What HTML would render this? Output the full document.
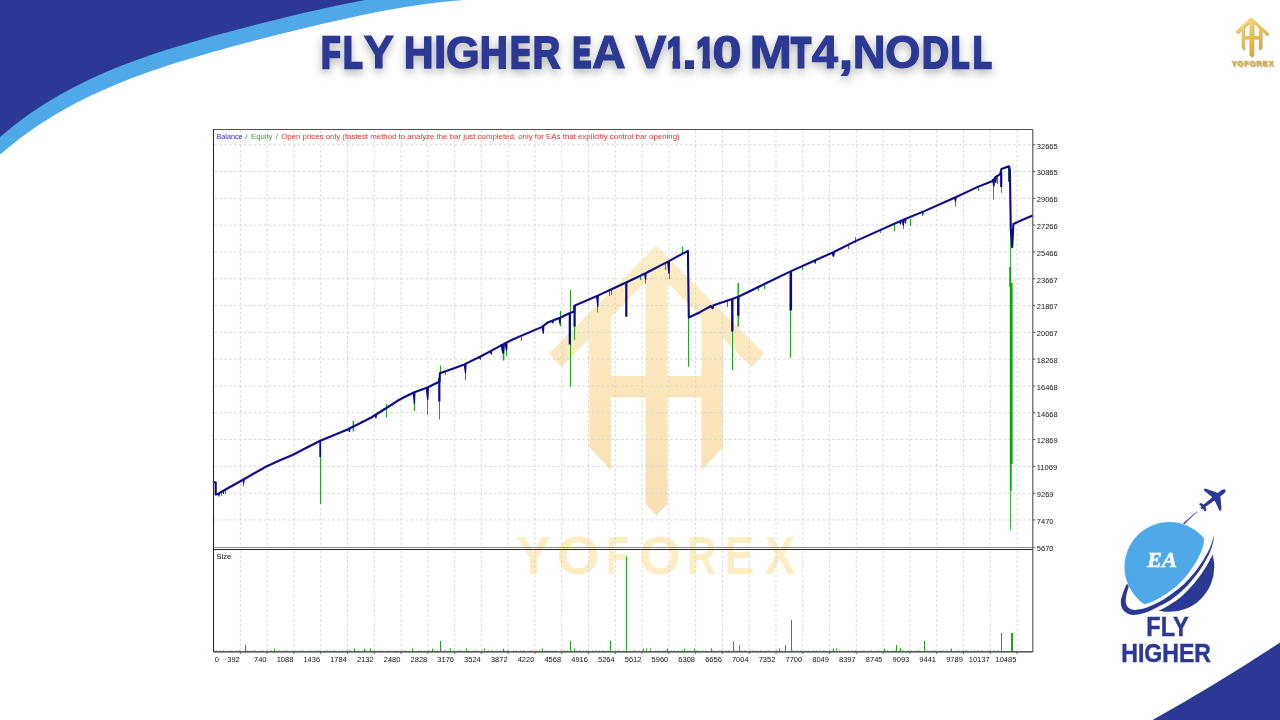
<!DOCTYPE html>
<html lang="en"><head><meta charset="utf-8"><title>FLY HIGHER EA V1.10 MT4,NODLL</title>
<style>html,body{margin:0;padding:0;background:#fff;}body{width:1280px;height:720px;overflow:hidden;position:relative;}svg{position:absolute;left:0;top:0;display:block;}text{font-family:"Liberation Sans",sans-serif;}</style>
</head><body>
<svg width="1280" height="720" viewBox="0 0 1280 720">
<defs>
<filter id="tshadow" color-interpolation-filters="sRGB" x="-5%" y="-30%" width="110%" height="180%"><feGaussianBlur in="SourceAlpha" stdDeviation="4"/><feOffset dx="0" dy="3.6" result="b"/><feFlood flood-color="#00000a" flood-opacity="0.3"/><feComposite in2="b" operator="in"/><feMerge><feMergeNode/><feMergeNode in="SourceGraphic"/></feMerge></filter>
<linearGradient id="wm" gradientUnits="userSpaceOnUse" x1="0" y1="245" x2="0" y2="515"><stop offset="0" stop-color="#fdeec6"/><stop offset="1" stop-color="#f8dfb2"/></linearGradient>
<linearGradient id="gold" gradientUnits="userSpaceOnUse" x1="1240" y1="17" x2="1262" y2="57"><stop offset="0" stop-color="#f8df7c"/><stop offset="0.5" stop-color="#eac04a"/><stop offset="1" stop-color="#d29d2e"/></linearGradient>
<filter id="gshadow" color-interpolation-filters="sRGB" x="-20%" y="-20%" width="140%" height="150%"><feGaussianBlur in="SourceAlpha" stdDeviation="0.5"/><feOffset dx="0.5" dy="0.7" result="b"/><feFlood flood-color="#6b4e12" flood-opacity="0.4"/><feComposite in2="b" operator="in"/><feMerge><feMergeNode/><feMergeNode in="SourceGraphic"/></feMerge></filter>
</defs>
<rect width="1280" height="720" fill="#fff"/>
<polygon points="0,0 0.0,154.5 19.3,138.8 38.6,125.1 58.0,113.0 77.3,102.3 96.6,92.9 115.9,84.4 135.2,76.8 154.5,69.9 173.8,63.6 193.2,57.7 212.5,52.1 231.8,46.7 251.1,41.6 270.4,36.6 289.8,31.8 309.1,27.1 328.4,22.6 347.7,18.2 367.0,14.1 386.3,10.3 405.6,6.9 425.0,4.0 444.3,1.8 463.6,0" fill="#4fa9e8"/>
<polygon points="0,0 0.0,136.9 15.2,124.5 30.4,113.3 45.6,103.3 60.9,94.2 76.1,86.0 91.3,78.6 106.5,71.8 121.7,65.6 136.9,59.9 152.1,54.6 167.3,49.6 182.6,44.9 197.8,40.4 213.0,36.1 228.2,31.9 243.4,27.9 258.6,24.0 273.8,20.2 289.0,16.4 304.2,12.8 319.5,9.4 334.7,6.1 349.9,3.0 365.1,0" fill="#2c3994"/>
<path d="M1152.5 720 Q 1218 683.5 1280 642.5 V720 Z" fill="#2c3994"/>
<mask id="tmask" maskUnits="userSpaceOnUse" x="300" y="0" width="720" height="120"><rect x="300" y="0" width="720" height="120" fill="#fff"/><g fill="#000"><rect x="340.20" y="30.00" width="3.37" height="50"/><rect x="362.60" y="60.16" width="3.08" height="14"/><rect x="529.70" y="30.00" width="4.30" height="50"/><rect x="665.50" y="59.77" width="7.00" height="14"/><rect x="680.10" y="59.77" width="4.80" height="14"/><rect x="695.10" y="59.98" width="7.30" height="14"/><rect x="710.00" y="59.98" width="5.80" height="14"/><rect x="969.40" y="60.16" width="4.18" height="14"/><rect x="991.80" y="60.16" width="3.68" height="14"/></g></mask>
<g filter="url(#tshadow)"><text id="title" mask="url(#tmask)" y="67.55" font-size="43.6" font-weight="700" fill="#2c3994" stroke="#2c3994" stroke-width="2.5" stroke-linejoin="miter"><tspan x="320.98" y="67.55" font-size="43.60" stroke-width="2.50" textLength="21.63" lengthAdjust="spacingAndGlyphs">F</tspan><tspan x="342.88" y="67.55" font-size="43.60" stroke-width="2.50" textLength="21.63" lengthAdjust="spacingAndGlyphs">L</tspan><tspan x="363.43" y="68.29" font-size="45.76" stroke-width="1.01" textLength="30.50" lengthAdjust="spacingAndGlyphs">Y</tspan> <tspan x="403.94" y="67.94" font-size="44.73" stroke-width="1.73" textLength="29.45" lengthAdjust="spacingAndGlyphs">H</tspan><tspan x="433.79" y="68.30" font-size="45.78" stroke-width="1.00" textLength="12.92" lengthAdjust="spacingAndGlyphs">I</tspan><tspan x="446.00" y="68.12" font-size="45.26" stroke-width="1.36" textLength="33.70" lengthAdjust="spacingAndGlyphs">G</tspan><tspan x="480.08" y="67.76" font-size="44.21" stroke-width="2.09" textLength="27.66" lengthAdjust="spacingAndGlyphs">H</tspan><tspan x="509.98" y="67.55" font-size="43.60" stroke-width="2.50" textLength="23.62" lengthAdjust="spacingAndGlyphs">E</tspan><tspan x="532.64" y="67.73" font-size="44.12" stroke-width="2.14" textLength="27.37" lengthAdjust="spacingAndGlyphs">R</tspan> <tspan x="573.05" y="67.05" font-size="42.15" stroke-width="3.50" textLength="17.95" lengthAdjust="spacingAndGlyphs">E</tspan><tspan x="592.14" y="68.30" font-size="45.78" stroke-width="1.00" textLength="33.69" lengthAdjust="spacingAndGlyphs">A</tspan> <tspan x="635.08" y="68.30" font-size="45.78" stroke-width="1.00" textLength="31.34" lengthAdjust="spacingAndGlyphs">V</tspan><tspan x="667.15" y="67.09" font-size="42.27" stroke-width="3.42" textLength="16.85" lengthAdjust="spacingAndGlyphs">1</tspan><tspan x="682.63" y="67.80" font-size="44.33" stroke-width="2.00" textLength="13.78" lengthAdjust="spacingAndGlyphs">.</tspan><tspan x="696.50" y="67.22" font-size="42.63" stroke-width="3.17" textLength="17.86" lengthAdjust="spacingAndGlyphs">1</tspan><tspan x="712.30" y="68.30" font-size="45.78" stroke-width="1.00" textLength="29.47" lengthAdjust="spacingAndGlyphs">0</tspan> <tspan x="749.48" y="68.30" font-size="45.78" stroke-width="1.00" textLength="42.53" lengthAdjust="spacingAndGlyphs">M</tspan><tspan x="791.34" y="67.30" font-size="42.87" stroke-width="3.00" textLength="19.50" lengthAdjust="spacingAndGlyphs">T</tspan><tspan x="811.79" y="68.30" font-size="45.78" stroke-width="1.00" textLength="26.27" lengthAdjust="spacingAndGlyphs">4</tspan><tspan x="839.42" y="67.80" font-size="44.33" stroke-width="2.00" textLength="13.01" lengthAdjust="spacingAndGlyphs">,</tspan><tspan x="852.68" y="68.28" font-size="45.72" stroke-width="1.05" textLength="32.86" lengthAdjust="spacingAndGlyphs">N</tspan><tspan x="884.93" y="68.29" font-size="45.77" stroke-width="1.01" textLength="35.59" lengthAdjust="spacingAndGlyphs">O</tspan><tspan x="922.12" y="67.68" font-size="44.00" stroke-width="2.23" textLength="26.93" lengthAdjust="spacingAndGlyphs">D</tspan><tspan x="950.78" y="67.55" font-size="43.60" stroke-width="2.50" textLength="21.63" lengthAdjust="spacingAndGlyphs">L</tspan><tspan x="972.68" y="67.55" font-size="43.60" stroke-width="2.50" textLength="21.63" lengthAdjust="spacingAndGlyphs">L</tspan></text></g>
<rect x="213.5" y="129.5" width="819.3" height="522.4" fill="#fff"/>
<g id="wmark" fill="url(#wm)">
<path d="M656 245.5 L549 353.5 L561.5 367 L656 271.5 L751.5 367 L764 353.5 Z"/>
<path d="M589.5 316 L611 300 L611 470 L589.5 447.5 Z"/>
<path d="M723 316 L701.5 300 L701.5 470 L723 447.5 Z"/>
<path d="M645.5 262 H667.5 V504 L656.5 515.5 L645.5 504 Z"/>
<rect x="600" y="376" width="112" height="21.5"/>
</g>
<text y="574.4" font-size="53" font-weight="700" fill="#fcedc2"><tspan x="516.62" textLength="34.20" lengthAdjust="spacingAndGlyphs">Y</tspan><tspan x="556.46" textLength="43.38" lengthAdjust="spacingAndGlyphs">O</tspan><tspan x="606.28" textLength="22.58" lengthAdjust="spacingAndGlyphs">F</tspan><tspan x="639.04" textLength="41.98" lengthAdjust="spacingAndGlyphs">O</tspan><tspan x="687.37" textLength="28.44" lengthAdjust="spacingAndGlyphs">R</tspan><tspan x="724.52" textLength="29.72" lengthAdjust="spacingAndGlyphs">E</tspan><tspan x="764.59" textLength="30.81" lengthAdjust="spacingAndGlyphs">X</tspan></text>
<g stroke="#d4d4d4" stroke-width="0.9" stroke-dasharray="2.6 2.3" fill="none">
<path d="M240.38 130.5 V546.5 M240.38 550.5 V650.9"/>
<path d="M267.16 130.5 V546.5 M267.16 550.5 V650.9"/>
<path d="M293.94 130.5 V546.5 M293.94 550.5 V650.9"/>
<path d="M320.72 130.5 V546.5 M320.72 550.5 V650.9"/>
<path d="M347.50 130.5 V546.5 M347.50 550.5 V650.9"/>
<path d="M374.28 130.5 V546.5 M374.28 550.5 V650.9"/>
<path d="M401.06 130.5 V546.5 M401.06 550.5 V650.9"/>
<path d="M427.84 130.5 V546.5 M427.84 550.5 V650.9"/>
<path d="M454.62 130.5 V546.5 M454.62 550.5 V650.9"/>
<path d="M481.40 130.5 V546.5 M481.40 550.5 V650.9"/>
<path d="M508.18 130.5 V546.5 M508.18 550.5 V650.9"/>
<path d="M534.96 130.5 V546.5 M534.96 550.5 V650.9"/>
<path d="M561.74 130.5 V546.5 M561.74 550.5 V650.9"/>
<path d="M588.52 130.5 V546.5 M588.52 550.5 V650.9"/>
<path d="M615.30 130.5 V546.5 M615.30 550.5 V650.9"/>
<path d="M642.08 130.5 V546.5 M642.08 550.5 V650.9"/>
<path d="M668.86 130.5 V546.5 M668.86 550.5 V650.9"/>
<path d="M695.64 130.5 V546.5 M695.64 550.5 V650.9"/>
<path d="M722.42 130.5 V546.5 M722.42 550.5 V650.9"/>
<path d="M749.20 130.5 V546.5 M749.20 550.5 V650.9"/>
<path d="M775.98 130.5 V546.5 M775.98 550.5 V650.9"/>
<path d="M802.76 130.5 V546.5 M802.76 550.5 V650.9"/>
<path d="M829.54 130.5 V546.5 M829.54 550.5 V650.9"/>
<path d="M856.32 130.5 V546.5 M856.32 550.5 V650.9"/>
<path d="M883.10 130.5 V546.5 M883.10 550.5 V650.9"/>
<path d="M909.88 130.5 V546.5 M909.88 550.5 V650.9"/>
<path d="M936.66 130.5 V546.5 M936.66 550.5 V650.9"/>
<path d="M963.44 130.5 V546.5 M963.44 550.5 V650.9"/>
<path d="M990.22 130.5 V546.5 M990.22 550.5 V650.9"/>
<path d="M1017.00 130.5 V546.5 M1017.00 550.5 V650.9"/>
<path d="M214.5 144.75 H1031.8"/>
<path d="M214.5 171.55 H1031.8"/>
<path d="M214.5 198.35 H1031.8"/>
<path d="M214.5 225.15 H1031.8"/>
<path d="M214.5 251.95 H1031.8"/>
<path d="M214.5 278.75 H1031.8"/>
<path d="M214.5 305.55 H1031.8"/>
<path d="M214.5 332.35 H1031.8"/>
<path d="M214.5 359.15 H1031.8"/>
<path d="M214.5 385.95 H1031.8"/>
<path d="M214.5 412.75 H1031.8"/>
<path d="M214.5 439.55 H1031.8"/>
<path d="M214.5 466.35 H1031.8"/>
<path d="M214.5 493.15 H1031.8"/>
<path d="M214.5 519.95 H1031.8"/>
</g>
<g stroke="#1ea51e" fill="none">
<path d="M221.5 491 V496" stroke-width="1"/>
<path d="M225.5 490 V494" stroke-width="1"/>
<path d="M243.5 479 V486.5" stroke-width="1"/>
<path d="M320.5 441 V503.8" stroke-width="1"/>
<path d="M353.4 421 V431.5" stroke-width="1.6"/>
<path d="M386.5 404 V417.5" stroke-width="1"/>
<path d="M392.5 403 V406" stroke-width="1"/>
<path d="M414.5 392 V411" stroke-width="1"/>
<path d="M427.5 387 V414.7" stroke-width="1"/>
<path d="M439.5 381 V419.4" stroke-width="1"/>
<path d="M440.5 365.5 V374" stroke-width="1"/>
<path d="M445.5 371 V375" stroke-width="1"/>
<path d="M465.5 363 V380.3" stroke-width="1"/>
<path d="M480.5 357 V360" stroke-width="1"/>
<path d="M491.5 351 V355" stroke-width="1"/>
<path d="M503.5 345 V360.5" stroke-width="1.6"/>
<path d="M506.5 344 V356" stroke-width="1"/>
<path d="M521.5 336 V341" stroke-width="1"/>
<path d="M543.5 326 V334" stroke-width="1"/>
<path d="M560.5 311 V326.7" stroke-width="1"/>
<path d="M570.5 290 V386.7" stroke-width="1"/>
<path d="M574.5 305 V340" stroke-width="1"/>
<path d="M597.5 295 V312.5" stroke-width="1"/>
<path d="M609.5 290 V296" stroke-width="1"/>
<path d="M611.5 289 V295" stroke-width="1"/>
<path d="M626.5 282 V300" stroke-width="1"/>
<path d="M640.5 276 V280" stroke-width="1"/>
<path d="M645.5 273 V283.5" stroke-width="1"/>
<path d="M665.5 262 V270" stroke-width="1"/>
<path d="M669.5 261 V279" stroke-width="1"/>
<path d="M682.5 246.5 V254" stroke-width="1"/>
<path d="M688.5 317 V366.7" stroke-width="1"/>
<path d="M727.5 300 V307" stroke-width="1"/>
<path d="M732.5 298 V370" stroke-width="1"/>
<path d="M738.3 283 V326.7" stroke-width="1.5"/>
<path d="M758.5 287 V291" stroke-width="1"/>
<path d="M764.5 284 V289" stroke-width="1"/>
<path d="M790.5 271 V357.8" stroke-width="1"/>
<path d="M802.5 266 V270" stroke-width="1"/>
<path d="M815.5 260 V264" stroke-width="1"/>
<path d="M833.5 252 V257" stroke-width="1"/>
<path d="M848.5 245 V249" stroke-width="1"/>
<path d="M855.5 237 V243" stroke-width="1"/>
<path d="M880.5 230 V233" stroke-width="1"/>
<path d="M894.5 224 V231" stroke-width="1"/>
<path d="M903.5 220 V229" stroke-width="1"/>
<path d="M910.5 219 V226" stroke-width="1"/>
<path d="M922.5 211 V216" stroke-width="1"/>
<path d="M955.5 197 V206.5" stroke-width="1"/>
<path d="M978.5 187 V191" stroke-width="1"/>
<path d="M993.5 181 V199.6" stroke-width="1"/>
<path d="M997.5 177 V184" stroke-width="1"/>
<path d="M1001.5 172 V192.8" stroke-width="1"/>
<path d="M1008.9 168 V181" stroke-width="1.5"/>
<path d="M1010.5 229 V269" stroke-width="1" stroke="#35bd35"/>
<path d="M1010.2 267 V287" stroke-width="1.9" stroke="#12a012"/>
<path d="M1011.2 283 V464" stroke-width="2.8" stroke="#0ca50c"/>
<path d="M1010.8 464 V491" stroke-width="1.8" stroke="#0ca50c"/>
<path d="M1010.6 491 V530" stroke-width="1" stroke="#2bb52b"/>
</g>
<polyline points="214.1,482.2 215.7,482.2 215.7,494.6 218,494 221.3,491.8 230,487 240,481.5 253,474 266.3,466.5 280,460.3 292.5,455 306,448 319.7,441 333,435.5 346.9,429.7 360,423.3 371.3,417.5 384,409.5 397.5,400.8 406,396.3 414.4,392.2 427.5,387.5 439.6,381.5 439.9,373.3 452,369 464.4,364.4 480,356.7 492,350.4 504.4,343.8 512,339.8 522.2,335.4 542.2,326.9 547.8,322.4 560,317.8 569.5,313.2 574.2,311.5 574.5,305.6 586,300.8 597.8,295.6 612,289 626.7,282.2 645.6,273.3 668.9,261.1 687.9,250.8 688.8,317.5 700,312.2 711,306 712.5,308.2 713.5,305.3 732.2,298.9 738.9,296.5 765,283.8 791.1,271.1 812,261.8 833.3,252.2 855.6,241.1 879,230.6 902.2,220.2 924.4,211.1 955.6,197.3 977.8,186.9 993.3,180.7 995.3,177.2 1000.1,174.3 1001.5,168.9 1008.9,166.3 1009.9,170 1010.8,229.7 1012.2,247.2 1013.4,224 1022,220 1032,215.8" fill="none" stroke="#0a0a8c" stroke-width="2.1" stroke-linejoin="round" stroke-linecap="round"/>
<g stroke="#0a0a8c" fill="none" stroke-linecap="butt">
<path d="M217.48 493 L219.91 493 L219.48 496.5 L218.52 496.5 Z" fill="#0a0a8c" stroke="none"/>
<path d="M222.17 490.5 L224.30 490.5 L223.92 494 L223.08 494 Z" fill="#0a0a8c" stroke="none"/>
<path d="M242.28 479 L244.71 479 L244.28 483.5 L243.32 483.5 Z" fill="#0a0a8c" stroke="none"/>
<path d="M320.2 441 V457" stroke-width="1.8"/>
<path d="M347.60 428.5 L350.64 428.5 L350.10 432 L348.90 432 Z" fill="#0a0a8c" stroke="none"/>
<path d="M374.48 415 L376.91 415 L376.48 418.5 L375.52 418.5 Z" fill="#0a0a8c" stroke="none"/>
<path d="M412.50 392 L415.54 392 L415.00 404 L413.80 404 Z" fill="#0a0a8c" stroke="none"/>
<path d="M425.70 387.5 L428.74 387.5 L428.20 398 L427.00 398 Z" fill="#0a0a8c" stroke="none"/>
<path d="M439.3 378 V401.5" stroke-width="2.2"/>
<path d="M426.09 388 L428.83 388 L428.34 400 L427.26 400 Z" fill="#0a0a8c" stroke="none"/>
<path d="M463.60 364 L466.64 364 L466.10 373.5 L464.90 373.5 Z" fill="#0a0a8c" stroke="none"/>
<path d="M478.48 356.5 L480.91 356.5 L480.48 359 L479.52 359 Z" fill="#0a0a8c" stroke="none"/>
<path d="M489.48 351 L491.91 351 L491.48 354 L490.52 354 Z" fill="#0a0a8c" stroke="none"/>
<path d="M500.35 344.5 L504.91 344.5 L504.10 353.5 L502.30 353.5 Z" fill="#0a0a8c" stroke="none"/>
<path d="M504.60 343.5 L507.64 343.5 L507.10 351 L505.90 351 Z" fill="#0a0a8c" stroke="none"/>
<path d="M541.40 326.5 L544.44 326.5 L543.90 333.5 L542.70 333.5 Z" fill="#0a0a8c" stroke="none"/>
<path d="M551.48 320.5 L553.91 320.5 L553.48 323.5 L552.52 323.5 Z" fill="#0a0a8c" stroke="none"/>
<path d="M558.29 317.5 L561.03 317.5 L560.54 324.5 L559.46 324.5 Z" fill="#0a0a8c" stroke="none"/>
<path d="M569.8 313 V344.5" stroke-width="2.2"/>
<path d="M574.6 305.6 V326.7" stroke-width="2.2"/>
<path d="M595.90 295.5 L598.94 295.5 L598.40 306.8 L597.20 306.8 Z" fill="#0a0a8c" stroke="none"/>
<path d="M626.3 282 V316.8" stroke-width="2.2"/>
<path d="M643.89 273.3 L646.63 273.3 L646.14 280 L645.06 280 Z" fill="#0a0a8c" stroke="none"/>
<path d="M667.00 261 L670.04 261 L669.50 273.5 L668.30 273.5 Z" fill="#0a0a8c" stroke="none"/>
<path d="M732.3 298.8 V331.5" stroke-width="2.4"/>
<path d="M738.3 296.5 V315.8" stroke-width="2.4"/>
<path d="M790.8 271 V310.5" stroke-width="2.6"/>
<path d="M831.03 252 L834.98 252 L834.28 256.5 L832.72 256.5 Z" fill="#0a0a8c" stroke="none"/>
<path d="M813.48 260.5 L815.91 260.5 L815.48 263 L814.52 263 Z" fill="#0a0a8c" stroke="none"/>
<path d="M901.40 220 L904.44 220 L903.90 225.5 L902.70 225.5 Z" fill="#0a0a8c" stroke="none"/>
<path d="M898.98 221 L901.41 221 L900.98 224.5 L900.02 224.5 Z" fill="#0a0a8c" stroke="none"/>
<path d="M903.98 219 L906.41 219 L905.98 223.5 L905.02 223.5 Z" fill="#0a0a8c" stroke="none"/>
<path d="M921.48 211.5 L923.91 211.5 L923.48 214.5 L922.52 214.5 Z" fill="#0a0a8c" stroke="none"/>
<path d="M953.70 197 L956.74 197 L956.20 201.5 L955.00 201.5 Z" fill="#0a0a8c" stroke="none"/>
<path d="M991.81 179 L995.15 179 L994.56 186.5 L993.24 186.5 Z" fill="#0a0a8c" stroke="none"/>
<path d="M993.90 177 L996.94 177 L996.40 183 L995.20 183 Z" fill="#0a0a8c" stroke="none"/>
<path d="M1001.2 172 V187" stroke-width="2.2"/>
<path d="M1009.3 166.5 V182" stroke-width="1.8"/>
</g>
<g stroke="#1ea51e" fill="none">
<path d="M245.5 645 V651.4" stroke-width="1"/>
<path d="M274.5 648.4 V651.4" stroke-width="1"/>
<path d="M354.5 648.6 V651.4" stroke-width="1"/>
<path d="M364.5 648.8 V651.4" stroke-width="1"/>
<path d="M370.5 648.4 V651.4" stroke-width="1"/>
<path d="M412.5 648.4 V651.4" stroke-width="1"/>
<path d="M432.5 648.7 V651.4" stroke-width="1"/>
<path d="M440.5 641 V651.4" stroke-width="1"/>
<path d="M450.5 648.4 V651.4" stroke-width="1"/>
<path d="M466.5 648.4 V651.4" stroke-width="1"/>
<path d="M484.5 648.7 V651.4" stroke-width="1"/>
<path d="M503.5 648.8 V651.4" stroke-width="1"/>
<path d="M542.5 648.4 V651.4" stroke-width="1"/>
<path d="M570.5 641 V651.4" stroke-width="1"/>
<path d="M574.5 648.5 V651.4" stroke-width="1"/>
<path d="M610.5 641 V651.4" stroke-width="1"/>
<path d="M626.5 556.5 V651.4" stroke-width="1"/>
<path d="M643.5 648.4 V651.4" stroke-width="1"/>
<path d="M646.5 648.4 V651.4" stroke-width="1"/>
<path d="M650.5 648.4 V651.4" stroke-width="1"/>
<path d="M667.5 648.6 V651.4" stroke-width="1"/>
<path d="M684.5 648.6 V651.4" stroke-width="1"/>
<path d="M694.5 648.6 V651.4" stroke-width="1"/>
<path d="M711.5 648.4 V651.4" stroke-width="1"/>
<path d="M733.5 641.1 V651.4" stroke-width="1"/>
<path d="M739.5 645 V651.4" stroke-width="1"/>
<path d="M779.5 648.4 V651.4" stroke-width="1"/>
<path d="M785.5 645 V651.4" stroke-width="1"/>
<path d="M791.5 619.8 V651.4" stroke-width="1"/>
<path d="M833.5 648.5 V651.4" stroke-width="1"/>
<path d="M836.5 648.5 V651.4" stroke-width="1"/>
<path d="M884.5 648.6 V651.4" stroke-width="1"/>
<path d="M896.5 645 V651.4" stroke-width="1"/>
<path d="M900.5 648 V651.4" stroke-width="1"/>
<path d="M924.5 641 V651.4" stroke-width="1"/>
<path d="M951.5 648.6 V651.4" stroke-width="1"/>
<path d="M1001.5 633 V651.4" stroke-width="1"/>
<path d="M1012 633 V651.4" stroke-width="2"/>
<path d="M215.5 650.6 H1002.8" stroke-width="1" stroke-dasharray="1.2 3.1 0.8 2.2 1.5 4.3 0.9 1.8" stroke="#7fd07f"/>
</g>
<g stroke="#2a2a2a" stroke-width="1.1" fill="none">
<path d="M213.5 651.9 V129.5"/>
<path d="M213.0 129.5 H1032.8" stroke="#505050" stroke-width="1"/>
<path d="M213.5 547.5 H1035.8" stroke="#808080" stroke-width="0.9"/>
<path d="M213.5 549.5 H1032.8"/>
<path d="M213.5 651.9 H1032.8"/>
</g>
<path d="M1032.8 129.5 V651.9" stroke="#5a5a5a" stroke-width="1.2" fill="none"/>
<g stroke="#5a5a5a" stroke-width="1" fill="none">
<path d="M1032.8 144.75 h2.6"/>
<path d="M1032.8 171.55 h2.6"/>
<path d="M1032.8 198.35 h2.6"/>
<path d="M1032.8 225.15 h2.6"/>
<path d="M1032.8 251.95 h2.6"/>
<path d="M1032.8 278.75 h2.6"/>
<path d="M1032.8 305.55 h2.6"/>
<path d="M1032.8 332.35 h2.6"/>
<path d="M1032.8 359.15 h2.6"/>
<path d="M1032.8 385.95 h2.6"/>
<path d="M1032.8 412.75 h2.6"/>
<path d="M1032.8 439.55 h2.6"/>
<path d="M1032.8 466.35 h2.6"/>
<path d="M1032.8 493.15 h2.6"/>
<path d="M1032.8 519.95 h2.6"/>
<path d="M240.38 651.9 v2"/>
<path d="M267.16 651.9 v2"/>
<path d="M293.94 651.9 v2"/>
<path d="M320.72 651.9 v2"/>
<path d="M347.50 651.9 v2"/>
<path d="M374.28 651.9 v2"/>
<path d="M401.06 651.9 v2"/>
<path d="M427.84 651.9 v2"/>
<path d="M454.62 651.9 v2"/>
<path d="M481.40 651.9 v2"/>
<path d="M508.18 651.9 v2"/>
<path d="M534.96 651.9 v2"/>
<path d="M561.74 651.9 v2"/>
<path d="M588.52 651.9 v2"/>
<path d="M615.30 651.9 v2"/>
<path d="M642.08 651.9 v2"/>
<path d="M668.86 651.9 v2"/>
<path d="M695.64 651.9 v2"/>
<path d="M722.42 651.9 v2"/>
<path d="M749.20 651.9 v2"/>
<path d="M775.98 651.9 v2"/>
<path d="M802.76 651.9 v2"/>
<path d="M829.54 651.9 v2"/>
<path d="M856.32 651.9 v2"/>
<path d="M883.10 651.9 v2"/>
<path d="M909.88 651.9 v2"/>
<path d="M936.66 651.9 v2"/>
<path d="M963.44 651.9 v2"/>
<path d="M990.22 651.9 v2"/>
<path d="M1017.00 651.9 v2"/>
</g>
<g font-size="7.5" fill="#101010">
<text x="1036.8" y="148.65">32665</text>
<text x="1036.8" y="175.45">30865</text>
<text x="1036.8" y="202.25">29066</text>
<text x="1036.8" y="229.05">27266</text>
<text x="1036.8" y="255.85">25466</text>
<text x="1036.8" y="282.65">23667</text>
<text x="1036.8" y="309.45">21867</text>
<text x="1036.8" y="336.25">20067</text>
<text x="1036.8" y="363.05">18268</text>
<text x="1036.8" y="389.85">16468</text>
<text x="1036.8" y="416.65">14668</text>
<text x="1036.8" y="443.45">12869</text>
<text x="1036.8" y="470.25">11069</text>
<text x="1036.8" y="497.05">9269</text>
<text x="1036.8" y="523.85">7470</text>
<text x="1036.8" y="550.65">5670</text>
<text x="214.8" y="661.7">0</text>
<text x="239.78" y="661.7" text-anchor="end">392</text>
<text x="266.56" y="661.7" text-anchor="end">740</text>
<text x="293.34" y="661.7" text-anchor="end">1088</text>
<text x="320.12" y="661.7" text-anchor="end">1436</text>
<text x="346.90" y="661.7" text-anchor="end">1784</text>
<text x="373.68" y="661.7" text-anchor="end">2132</text>
<text x="400.46" y="661.7" text-anchor="end">2480</text>
<text x="427.24" y="661.7" text-anchor="end">2828</text>
<text x="454.02" y="661.7" text-anchor="end">3176</text>
<text x="480.80" y="661.7" text-anchor="end">3524</text>
<text x="507.58" y="661.7" text-anchor="end">3872</text>
<text x="534.36" y="661.7" text-anchor="end">4220</text>
<text x="561.14" y="661.7" text-anchor="end">4568</text>
<text x="587.92" y="661.7" text-anchor="end">4916</text>
<text x="614.70" y="661.7" text-anchor="end">5264</text>
<text x="641.48" y="661.7" text-anchor="end">5612</text>
<text x="668.26" y="661.7" text-anchor="end">5960</text>
<text x="695.04" y="661.7" text-anchor="end">6308</text>
<text x="721.82" y="661.7" text-anchor="end">6656</text>
<text x="748.60" y="661.7" text-anchor="end">7004</text>
<text x="775.38" y="661.7" text-anchor="end">7352</text>
<text x="802.16" y="661.7" text-anchor="end">7700</text>
<text x="828.94" y="661.7" text-anchor="end">8049</text>
<text x="855.72" y="661.7" text-anchor="end">8397</text>
<text x="882.50" y="661.7" text-anchor="end">8745</text>
<text x="909.28" y="661.7" text-anchor="end">9093</text>
<text x="936.06" y="661.7" text-anchor="end">9441</text>
<text x="962.84" y="661.7" text-anchor="end">9789</text>
<text x="989.62" y="661.7" text-anchor="end">10137</text>
<text x="1016.40" y="661.7" text-anchor="end">10485</text>
<text x="216.6" y="559.2">Size</text>
</g>
<text y="138.9" font-size="7.5"><tspan x="216.6" fill="#2a2ab4" textLength="25.9" lengthAdjust="spacingAndGlyphs">Balance</tspan> <tspan x="245.3" fill="#6a6a6a">/</tspan> <tspan x="251" fill="#2fae2f" textLength="21.5" lengthAdjust="spacingAndGlyphs">Equity</tspan> <tspan x="275.8" fill="#6a6a6a">/</tspan> <tspan x="281.2" fill="#e83030" textLength="398.5" lengthAdjust="spacingAndGlyphs">Open prices only (fastest method to analyze the bar just completed, only for EAs that explicitly control bar opening)</tspan></text>
<g id="yf">
<g fill="url(#gold)" filter="url(#gshadow)">
<path d="M1251 17.2 L1235.4 31.5 L1237.2 33.5 L1251 20.8 L1266.7 35.5 L1268.7 33.3 Z"/>
<path d="M1241.6 28 L1244.2 25.6 V50.4 L1241.6 47.8 Z"/>
<path d="M1261.7 29.4 L1258.8 26.6 V50.4 L1261.7 47.6 Z"/>
<path d="M1249.4 20.5 H1253.4 V55 L1251.4 57.3 L1249.4 55 Z"/>
<rect x="1243" y="36" width="17" height="2.7"/>
</g>
<text x="1252.4" y="66.1" font-size="7.4" font-weight="700" fill="#d4ab42" stroke="#d4ab42" stroke-width="0.4" text-anchor="middle" textLength="42" lengthAdjust="spacing" filter="url(#gshadow)">YOFOREX</text>
</g>
<g id="fh">
<clipPath id="globe2"><circle cx="1169.4" cy="566.9" r="44.9"/></clipPath>
<g clip-path="url(#globe2)"><path d="M1216.50 546.00 C1215.77 547.62 1214.23 551.60 1212.10 555.70 C1209.97 559.80 1207.08 565.53 1203.70 570.60 C1200.32 575.67 1195.77 581.57 1191.80 586.10 C1187.83 590.63 1183.78 594.57 1179.90 597.80 C1176.02 601.03 1171.98 603.37 1168.50 605.50 C1165.02 607.63 1162.42 609.02 1159.00 610.60 C1155.58 612.18 1149.83 614.27 1148.00 615.00 L1146 625 L1225 625 L1225 546 Z" fill="#2c3994"/>
<path d="M1205.60 530.00 C1205.40 531.40 1204.92 535.42 1204.40 538.40 C1203.88 541.38 1203.80 544.13 1202.50 547.90 C1201.20 551.67 1199.38 556.25 1196.60 561.00 C1193.82 565.75 1189.58 571.87 1185.80 576.40 C1182.02 580.93 1177.87 584.87 1173.90 588.20 C1169.93 591.53 1165.57 594.17 1162.00 596.40 C1158.43 598.63 1155.37 600.23 1152.50 601.60 C1149.63 602.97 1147.22 603.53 1144.80 604.60 C1142.38 605.67 1139.13 607.43 1138.00 608.00 L1115 608 L1115 515 L1205.6 515 Z" fill="#4fa9e8"/></g>
<path d="M1214.40 534.20 C1213.87 535.90 1212.40 541.22 1211.20 544.40 C1210.00 547.58 1209.43 549.33 1207.20 553.30 C1204.97 557.27 1201.37 563.38 1197.80 568.20 C1194.23 573.02 1189.35 578.52 1185.80 582.20 C1182.25 585.88 1180.13 587.47 1176.50 590.30 C1172.87 593.13 1168.17 596.67 1164.00 599.20 C1159.83 601.73 1155.25 603.85 1151.50 605.50 C1147.75 607.15 1144.52 608.38 1141.50 609.10 C1138.48 609.82 1135.60 610.07 1133.40 609.80 C1131.20 609.53 1129.57 608.72 1128.30 607.50 C1127.03 606.28 1126.12 604.58 1125.80 602.50 C1125.48 600.42 1125.93 597.65 1126.40 595.00 C1126.87 592.35 1128.43 588.40 1128.60 586.60 C1128.77 584.80 1127.60 584.60 1127.40 584.20 L1126.40 584.60 C1125.83 586.05 1123.93 590.45 1123.00 593.30 C1122.07 596.15 1120.83 599.00 1120.80 601.70 C1120.77 604.40 1121.47 607.47 1122.80 609.50 C1124.13 611.53 1126.65 613.02 1128.80 613.90 C1130.95 614.78 1132.62 615.12 1135.70 614.80 C1138.78 614.48 1143.70 613.25 1147.30 612.00 C1150.90 610.75 1153.82 609.03 1157.30 607.30 C1160.78 605.57 1164.98 603.55 1168.20 601.60 C1171.42 599.65 1173.23 598.43 1176.60 595.60 C1179.97 592.77 1184.47 588.93 1188.40 584.60 C1192.33 580.27 1196.67 574.88 1200.20 569.60 C1203.73 564.32 1207.43 557.50 1209.60 552.90 C1211.77 548.30 1212.60 543.82 1213.20 542.00 Z" fill="#2c3994"/>
<path d="M1183.3 523.5 Q 1190 517.2 1197.2 511.6 Q 1190.6 517.8 1184.2 524.3 Z" fill="#2c3994" stroke="#2c3994" stroke-width="0.35"/>
<g transform="translate(1216 497) rotate(-37.5)" fill="#2c3994">
<path d="M11.8 0 C11.8 -1.5 9.4 -2.1 7 -2.1 L4 -2.1 L-3.3 -13.3 Q-4.6 -14 -5.6 -12.9 L-3.2 -2 L-14.2 -1.35 L-15.7 -4.5 Q-16.9 -5.2 -17.9 -4.3 L-17.3 -1.15 L-18.9 -0.9 L-18.9 0.9 L-17.3 1.15 L-17.9 4.3 Q-16.9 5.2 -15.7 4.5 L-14.2 1.35 L-3.2 2 L-5.6 12.9 Q-4.6 14 -3.3 13.3 L4 2.1 L7 2.1 C9.4 2.1 11.8 1.5 11.8 0 Z"/>
</g>
<text x="1162" y="567.4" font-size="21" font-weight="700" font-style="italic" fill="#fff" stroke="#fff" stroke-width="0.5" text-anchor="middle" textLength="30" lengthAdjust="spacingAndGlyphs" style="font-family:'Liberation Serif',serif">EA</text>
<text x="1146.3" y="635.6" font-size="27.4" font-weight="700" fill="#2c3994" stroke="#2c3994" stroke-width="0.45" textLength="42.36" lengthAdjust="spacingAndGlyphs">FLY</text>
<text x="1121.25" y="661.7" font-size="25" font-weight="700" fill="#2c3994" stroke="#2c3994" stroke-width="0.45" textLength="89.8" lengthAdjust="spacingAndGlyphs">HIGHER</text>
</g>
</svg>
</body></html>
